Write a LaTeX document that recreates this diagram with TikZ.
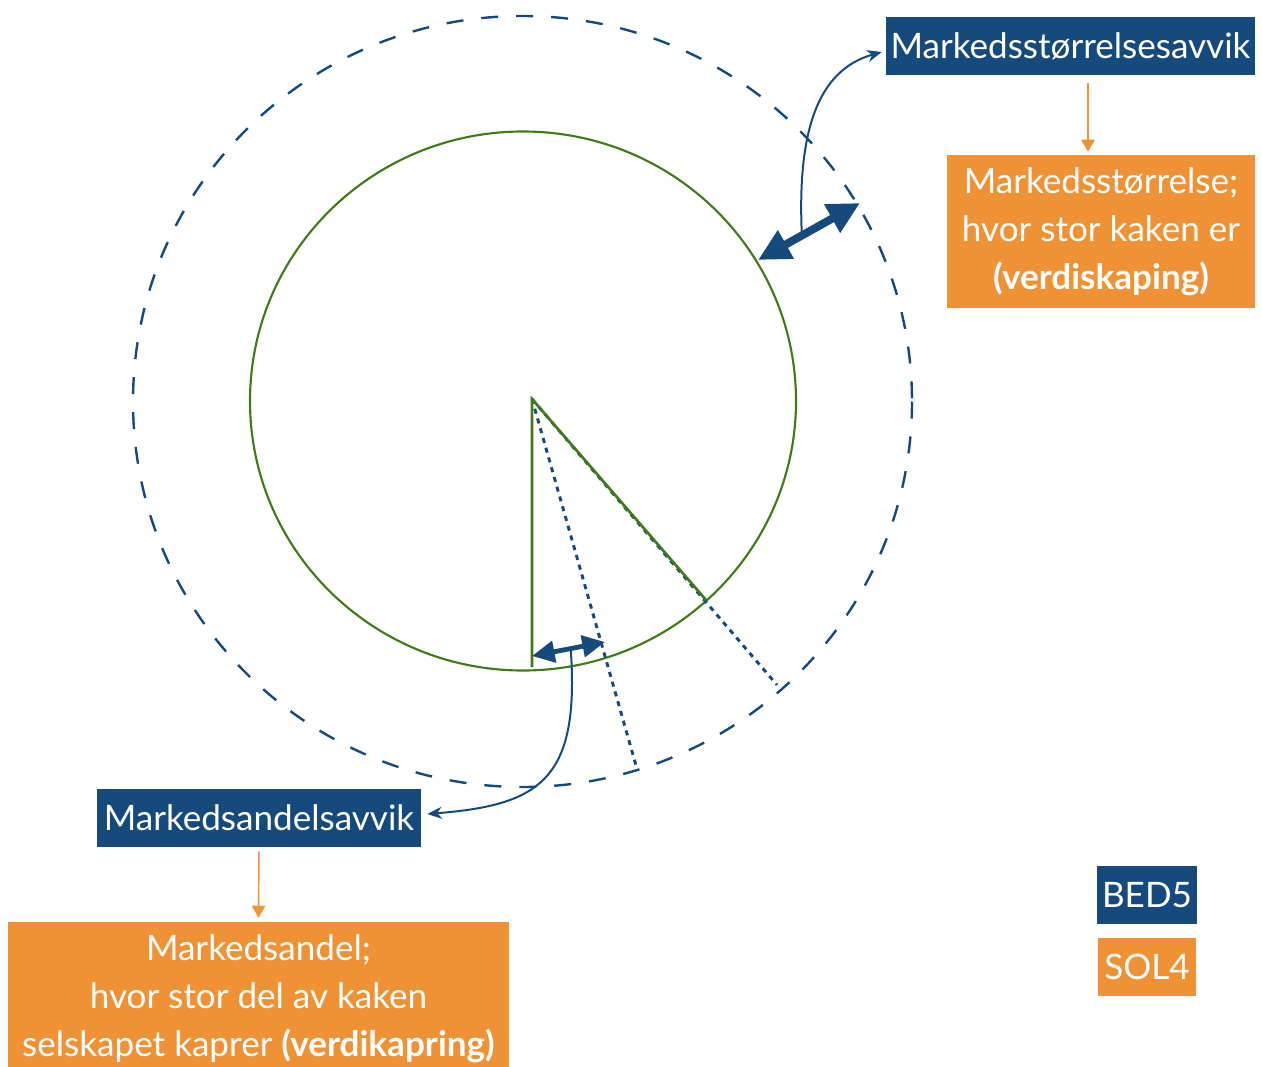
\documentclass[tikz,border=0pt]{standalone}
\usepackage{fontspec}
\setmainfont{Lato}
\usetikzlibrary{arrows.meta,calc}

\definecolor{bedblue}{RGB}{23,74,124}
\definecolor{solorange}{RGB}{239,146,54}
\definecolor{piegreen}{RGB}{66,122,27}

\tikzset{
  bluebox/.style={fill=bedblue, text=white, inner sep=0pt, minimum height=43.5pt, font=\fontsize{26.3}{30}\selectfont},
  orangebox/.style={fill=solorange, text=white, inner sep=0pt, align=center, font=\fontsize{26.3}{36}\selectfont},
  linkarrow/.style={draw=bedblue, line width=1.5pt, -{Stealth[length=11pt,width=9pt]}},
  downarrow/.style={draw=solorange, line width=1.1pt, -{Triangle[length=9pt,width=10pt]}},
  pieline/.style={draw=piegreen, line width=1.6pt},
  cutline/.style={draw=bedblue, line width=2.2pt, dash pattern=on 3.8pt off 3.8pt},
  rimline/.style={draw=bedblue, line width=1.8pt, dash pattern=on 12.75pt off 13.5pt}
}

\begin{document}
\begin{tikzpicture}[x=0.75pt,y=0.75pt,yscale=-1,xscale=1]
	\useasboundingbox (0,0) rectangle (1262,1066);

	% Coordinates
	\coordinate (O) at (523,401);
	\coordinate (apex) at (532,399);
	\coordinate (vertend) at (532,667);
	\coordinate (rimpt) at (706,600);
	\coordinate (sideend) at (777,685);
	\coordinate (cutend) at (637,769);

	%Shape: Circle
	\draw [rimline] (522.5,401.5) circle [x radius=389.5, y radius=385.5];
	%Shape: Circle
	\draw [pieline] (O) circle [x radius=273, y radius=269.5];

	%Straight Lines
	\draw [cutline] (apex) -- (cutend);
	\draw [cutline] (apex) -- (sideend);
	%Straight Lines
	\draw [pieline, line width=2pt, line join=miter] (vertend) -- (apex) -- (rimpt);

	% Double arrows
	\draw [draw=bedblue, line width=6pt, {Triangle[length=24pt,width=23pt]}-{Triangle[length=24pt,width=23pt]}] (758,260) coordinate (bigin) -- (860,203) coordinate (bigout);
	\draw [draw=bedblue, line width=3.6pt, {Triangle[length=17pt,width=16pt]}-{Triangle[length=17pt,width=16pt]}] (532,656) coordinate (smallin) -- (605,642) coordinate (smallout);
	\coordinate (bigmid) at ($(bigin)!0.43!(bigout)$);
	\coordinate (smallmid) at ($(smallin)!0.53!(smallout)$);

	% Text Node
	\node [bluebox, minimum width=276.75pt] (sizedev) at (1070.5,46) {Markedsstørrelsesavvik};
	% Text Node
	\node [orangebox, minimum width=231pt, minimum height=114.75pt] (sizetext) at (1101,231.5) {Markedsstørrelse;\\hvor stor kaken er\\\textbf{(verdiskaping)}};
	% Text Node
	\node [bluebox, minimum width=243pt] (sharedev) at (259,818) {Markedsandelsavvik};
	% Text Node
	\node [orangebox, minimum width=375.75pt, minimum height=114.75pt] (sharetext) at (258.5,998.5) {Markedsandel;\\hvor stor del av kaken\\selskapet kaprer \textbf{(verdikapring)}};
	% Text Node
	\node [bluebox, minimum width=75pt] (bedkey) at (1147,895) {BED5};
	% Text Node
	\node [bluebox, fill=solorange, minimum width=73.5pt] (solkey) at (1147,967) {SOL4};

	% Connection
	\coordinate (sizecol) at (1088,0);
	\draw [downarrow, shorten <=6pt, shorten >=2.25pt] (sizedev.south -| sizecol) -- (sizetext.north -| sizecol);
	% Connection
	\draw [downarrow, shorten <=3pt, shorten >=3pt] (sharedev.south) -- (sharetext.north);
	% Connection
	\draw [linkarrow] (bigmid) .. controls (797,130) and (818,70) .. ($(sizedev.west)+(-4,6)$);
	% Connection
	\draw [linkarrow] (smallmid) .. controls (580,780) and (540,805) .. ($(sharedev.east)+(6,-4)$);

\end{tikzpicture}
\end{document}
